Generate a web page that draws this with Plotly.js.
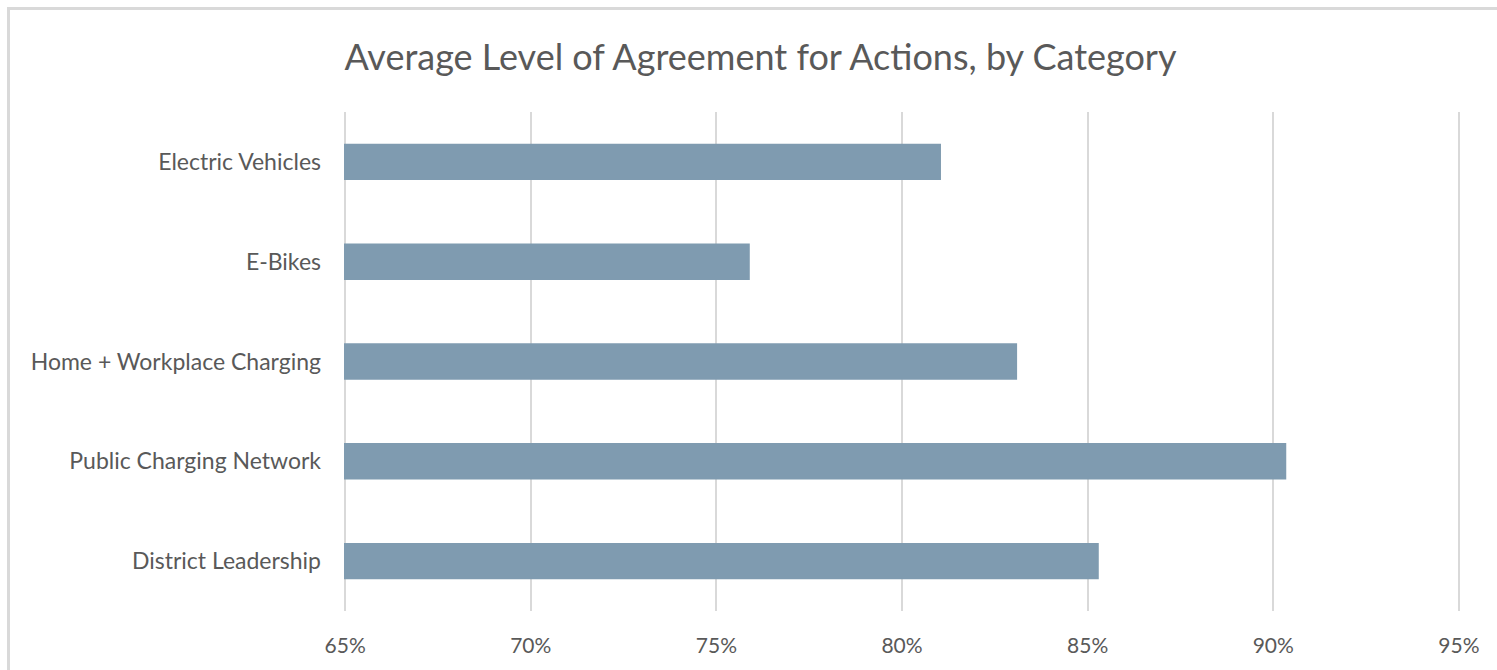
<!DOCTYPE html>
<html>
<head>
<meta charset="utf-8">
<script src="https://cdn.plot.ly/plotly-3.0.1.min.js"></script>
<style>
html,body{margin:0;padding:0;background:#fff;overflow:hidden;}
#wrap{position:relative;width:1497px;height:670px;}
#chart{position:absolute;left:0;top:0;width:1497px;height:670px;}
#frame{position:absolute;left:7px;top:7px;width:1600px;height:800px;border-left:3px solid #d9d9d9;border-top:3px solid #d9d9d9;pointer-events:none;}
</style>
</head>
<body>
<div id="wrap"><div id="chart"></div><div id="frame"></div></div>
<script>
const categories = ["Electric Vehicles", "E-Bikes", "Home + Workplace Charging", "Public Charging Network", "District Leadership"];
const values = [0.8105, 0.759, 0.831, 0.9035, 0.853];
const tickValues = [0.65, 0.70, 0.75, 0.80, 0.85, 0.90, 0.95];
const tickLabels = ["65%", "70%", "75%", "80%", "85%", "90%", "95%"];
const titleText = "Average Level of Agreement for Actions, by Category";

const fontFam = "Lato, 'Open Sans', sans-serif";
Plotly.newPlot('chart', [{
  type: 'bar',
  orientation: 'h',
  y: categories,
  x: values,
  base: 0,
  width: 0.365,
  marker: {color: '#7f9bb0', line: {width: 0}},
  hoverinfo: 'x+y'
}], {
  width: 1497, height: 670,
  paper_bgcolor: '#fff', plot_bgcolor: '#fff',
  margin: {l: 344, r: 37, t: 112, b: 59},
  title: {text: titleText, font: {family: fontFam, size: 36, color: '#595959'}, x: 0.508, xanchor: 'center', y: 0.915, yanchor: 'middle'},
  xaxis: {
    range: [0.6497, 0.9503], tickvals: tickValues, ticktext: tickLabels,
    showgrid: true, gridcolor: '#d9d9d9', gridwidth: 2,
    zeroline: false, showline: false, ticks: '',
    ticklabelstandoff: 20,
    tickfont: {family: fontFam, size: 21, color: '#595959'}, fixedrange: true
  },
  yaxis: {
    autorange: 'reversed', categoryorder: 'array', categoryarray: categories,
    showgrid: false, zeroline: false, showline: false, ticks: '',
    ticklabelstandoff: 22,
    tickfont: {family: fontFam, size: 23, color: '#595959'}, fixedrange: true
  },
  showlegend: false
}, {displayModeBar: false, staticPlot: true});
</script>
</body>
</html>
